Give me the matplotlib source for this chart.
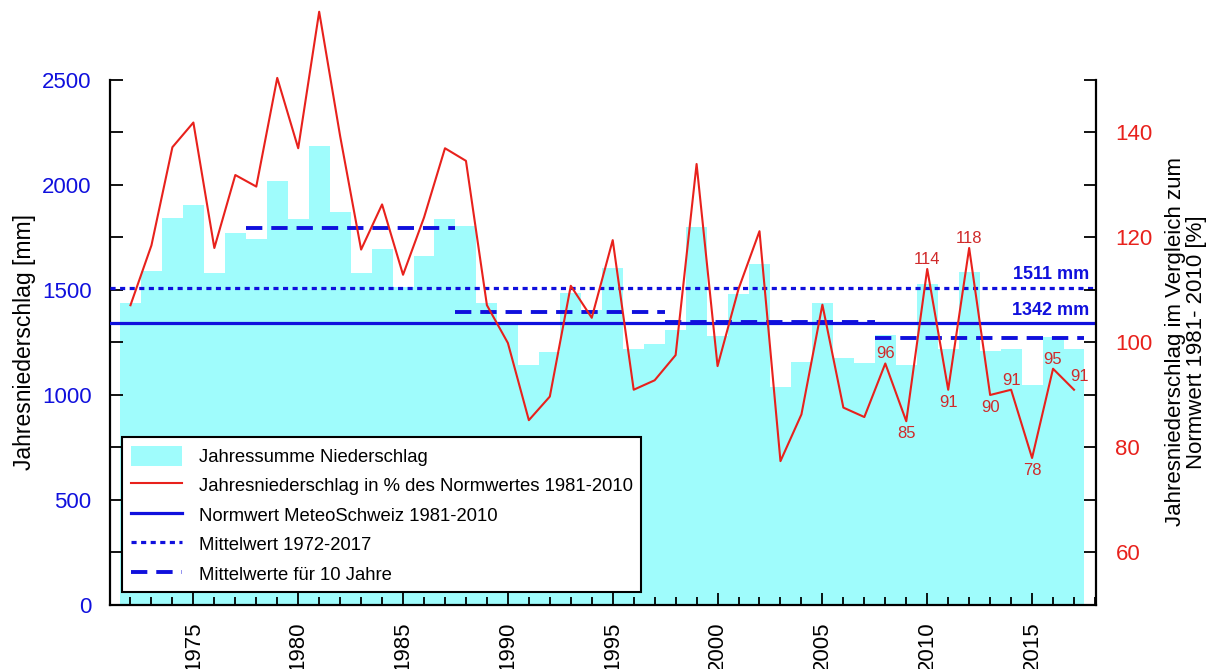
import matplotlib
matplotlib.use("Agg")
from matplotlib import pyplot as plt
from matplotlib.patches import Patch
from matplotlib.lines import Line2D
from matplotlib.ticker import MultipleLocator, FixedLocator

plt.rcParams['font.family'] = ['Liberation Sans', 'DejaVu Sans']

# data
years = list(range(1972, 2018))
rain_mm = [1437, 1590, 1841, 1905, 1583, 1770, 1741, 2019, 1838, 2187,
           1870, 1579, 1695, 1515, 1662, 1838, 1806, 1437, 1340, 1143,
           1204, 1487, 1405, 1604, 1221, 1245, 1310, 1798, 1281, 1479,
           1626, 1039, 1158, 1439, 1175, 1152, 1288, 1141, 1530, 1221,
           1584, 1208, 1221, 1047, 1275, 1221]
rain_pct = [107.1, 118.5, 137.2, 141.9, 118.0, 131.9, 129.7, 150.4, 137.0, 163.0,
            139.3, 117.7, 126.3, 112.9, 123.8, 137.0, 134.6, 107.1, 99.9, 85.2,
            89.7, 110.8, 104.7, 119.5, 91.0, 92.8, 97.6, 134.0, 95.5, 110.2,
            121.2, 77.4, 86.3, 107.2, 87.6, 85.8, 96, 85, 114, 91,
            118, 90, 91, 78, 95, 91]
norm_mm = 1342
mean_mm = 1511
decade_start = [1977.5, 1987.5, 1997.5, 2007.5]
decade_end = [1987.5, 1997.5, 2007.5, 2017.5]
decade_mm = [1794, 1397, 1349, 1273]

# labelled points: year, above(+1)/below(-1)
lab_years = [2008, 2009, 2010, 2011, 2012, 2013, 2014, 2015, 2016, 2017]
lab_side = [1, -1, 1, -1, 1, -1, 1, -1, 1, 1]

cyan = '#9ffcfc'
blue = '#1010dd'
red = '#e8211c'
lab_red = '#d02a2a'

fig = plt.figure(figsize=(12.1, 6.69), dpi=100)
ax = fig.add_axes([0.0905, 0.0957, 0.8153, 0.9043])
ax2 = ax.twinx()

# bars
ax.bar(years, rain_mm, width=1.0, color=cyan, edgecolor='none', zorder=1)

# reference lines
ax.axhline(norm_mm, color=blue, lw=2.3, zorder=3)
ax.axhline(mean_mm, color=blue, lw=2.3, linestyle=(0, (1.6, 1.4)), zorder=3)
ax.hlines(decade_mm, decade_start, decade_end, colors=blue, lw=2.8,
          linestyles=[(0, (4.2, 2.3))], zorder=3)

ax.text(2017.75, mean_mm + 20, '%d mm' % mean_mm, color=blue, fontsize=13,
        fontweight='bold', ha='right', va='bottom')
ax.text(2017.75, norm_mm + 20, '%d mm' % norm_mm, color=blue, fontsize=13,
        fontweight='bold', ha='right', va='bottom')

# red line on right axis
ax2.plot(years, rain_pct, color=red, lw=1.5, zorder=4)
for yr, side in zip(lab_years, lab_side):
    v = rain_pct[years.index(yr)]
    if yr == 2017:
        ax2.annotate('%d' % v, (yr, v), xytext=(4, 4), textcoords='offset points',
                     ha='center', va='bottom', color=lab_red, fontsize=12)
    elif side > 0:
        ax2.annotate('%d' % v, (yr, v), xytext=(0, 1.5), textcoords='offset points',
                     ha='center', va='bottom', color=lab_red, fontsize=12)
    else:
        ax2.annotate('%d' % v, (yr, v), xytext=(0, -3.5), textcoords='offset points',
                     ha='center', va='top', color=lab_red, fontsize=12)

# axes limits
ax.set_xlim(1971.0, 2018.05)
top_mm = 2500 * 605 / 525
ax.set_ylim(0, top_mm)
ax2.set_ylim(50, 50 + 100 * 605 / 525)

# spines
for s in ['top', 'right']:
    ax.spines[s].set_visible(False)
for s in ['top', 'left', 'bottom']:
    ax2.spines[s].set_visible(False)
ax.spines['left'].set_bounds(0, 2500)
ax2.spines['right'].set_bounds(50, 150)
for sp in [ax.spines['left'], ax.spines['bottom'], ax2.spines['right']]:
    sp.set_linewidth(1.6)

# ticks
ax.xaxis.set_major_locator(MultipleLocator(5))
ax.xaxis.set_minor_locator(MultipleLocator(1))
ax.yaxis.set_major_locator(FixedLocator([0, 500, 1000, 1500, 2000, 2500]))
ax.yaxis.set_minor_locator(FixedLocator([250, 750, 1250, 1750, 2250]))
ax2.yaxis.set_major_locator(FixedLocator([60, 80, 100, 120, 140]))
ax2.yaxis.set_minor_locator(FixedLocator([50, 70, 90, 110, 130, 150]))

ax.tick_params(axis='x', which='both', direction='in', width=1.3, pad=12,
               labelsize=16, labelrotation=90)
ax.tick_params(axis='x', which='major', length=9)
ax.tick_params(axis='x', which='minor', length=6)
ax.tick_params(axis='y', which='both', direction='in', width=1.3, pad=13,
               labelsize=16, labelcolor=blue, length=9)
ax2.tick_params(axis='y', which='both', direction='in', width=1.3, pad=14,
                labelsize=16, labelcolor=red, length=9)

ax.set_ylabel('Jahresniederschlag [mm]', fontsize=16.5, labelpad=6)
ax.yaxis.set_label_coords(-0.075, 1250 / top_mm)

# right axis title, placed in figure pixels
fig.text(1186 / 1210, 1 - 342 / 669,
         'Jahresniederschlag im Vergleich zum\nNormwert 1981- 2010 [%]',
         rotation=90, ha='center', va='center', fontsize=16,
         linespacing=1.05, multialignment='center')

# legend
handles = [Patch(facecolor=cyan, edgecolor='none'),
           Line2D([], [], color=red, lw=1.5),
           Line2D([], [], color=blue, lw=2.3),
           Line2D([], [], color=blue, lw=2.3, linestyle=(0, (1.6, 1.4))),
           Line2D([], [], color=blue, lw=2.8, linestyle=(0, (4.2, 2.3)))]
labels = ['Jahressumme Niederschlag',
          'Jahresniederschlag in % des Normwertes 1981-2010',
          'Normwert MeteoSchweiz 1981-2010',
          'Mittelwert 1972-2017',
          'Mittelwerte für 10 Jahre']
leg = ax2.legend(handles, labels, loc='lower left', bbox_to_anchor=(0.013, 0.021),
                 fontsize=13.3, frameon=True, fancybox=False, framealpha=1,
                 edgecolor='black', handlelength=2.8, handleheight=1.3,
                 labelspacing=0.5, borderpad=0.45, handletextpad=0.9,
                 borderaxespad=0)
leg.get_frame().set_linewidth(1.5)
leg.set_zorder(10)

fig.savefig('out.png', dpi=100)
